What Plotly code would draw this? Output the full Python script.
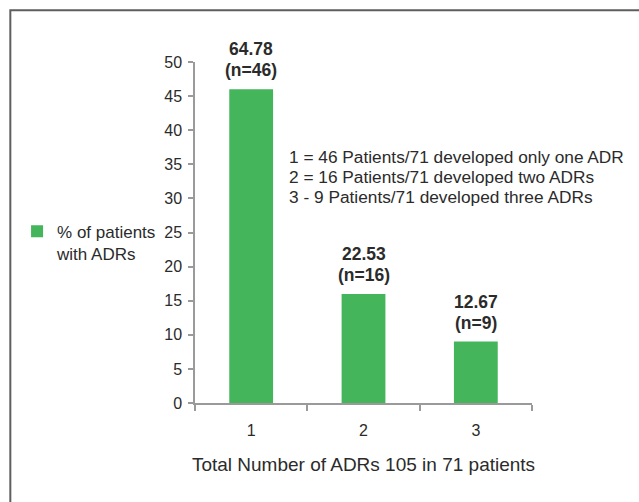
import plotly.graph_objects as go

# Number of ADRs per patient, patient counts and percentage of patients
categories = ["1", "2", "3"]
patients = [46, 16, 9]
percent = [64.78, 22.53, 12.67]
y_ticks = [0, 5, 10, 15, 20, 25, 30, 35, 40, 45, 50]

note_lines = [
    "1 = 46 Patients/71 developed only one ADR",
    "2 = 16 Patients/71 developed two ADRs",
    "3 - 9 Patients/71 developed three ADRs",
]

GREEN = "#45b55b"
AXIS = "#9a9a9a"
TEXT = "#2b2b2b"
FONT = "Liberation Sans, Arial, sans-serif"

fig = go.Figure()
fig.add_trace(go.Bar(
    x=categories,
    y=patients,
    name="% of patients<br>with ADRs",
    marker=dict(color=GREEN, line=dict(width=0)),
    width=0.39,
    showlegend=True,
))

# value labels above each bar (x given as category index):
# percentage on the upper line, patient count just above the bar
for i, (n, pct) in enumerate(zip(patients, percent)):
    for txt, shift in ((f"<b>{pct:.2f}</b>", 40), (f"<b>(n={n})</b>", 19)):
        fig.add_annotation(
            x=i, y=n, xref="x", yref="y", text=txt,
            showarrow=False, yanchor="middle", yshift=shift,
            font=dict(family=FONT, size=17.5, color=TEXT),
        )

# explanatory note, one line per annotation
for k, line in enumerate(note_lines):
    fig.add_annotation(
        x=0.273, y=0.7214 - k * 0.0587, xref="paper", yref="paper",
        xanchor="left", yanchor="middle", align="left",
        text=line, showarrow=False,
        font=dict(family=FONT, size=17.3, color=TEXT),
    )

# outer frame
fig.add_shape(
    type="rect", xref="paper", yref="paper",
    x0=-0.548, x1=1.4, y0=-0.4, y1=1.152,
    line=dict(color="#5e5e5e", width=2), fillcolor="rgba(0,0,0,0)",
    layer="below",
)

fig.update_layout(
    width=639, height=502,
    margin=dict(l=195, r=107, t=62, b=99),
    paper_bgcolor="white", plot_bgcolor="white",
    font=dict(family=FONT, size=16, color=TEXT),
    legend=dict(
        x=-0.528, y=0.555, xanchor="left", yanchor="top",
        valign="top", font=dict(family=FONT, size=17, color=TEXT),
        bgcolor="rgba(0,0,0,0)", itemwidth=30, tracegroupgap=0,
    ),
    xaxis=dict(
        type="category", showline=True, linecolor=AXIS, linewidth=1.5,
        ticks="outside", tickson="boundaries", ticklen=6, tickcolor=AXIS,
        tickwidth=1.5, showgrid=False, zeroline=False,
        ticklabelstandoff=12,
        tickfont=dict(family=FONT, size=16, color=TEXT),
        title=dict(text="Total Number of ADRs 105 in 71 patients",
                   font=dict(family=FONT, size=19, color=TEXT), standoff=20),
    ),
    yaxis=dict(
        range=[0, 50], tickvals=y_ticks, showline=True, linecolor=AXIS,
        linewidth=1.5, ticks="outside", ticklen=5, tickcolor=AXIS,
        tickwidth=1.5, showgrid=False, zeroline=False,
        ticklabelstandoff=3,
        tickfont=dict(family=FONT, size=16, color=TEXT),
    ),
    bargap=0.61,
)

fig.write_html("out.html")
